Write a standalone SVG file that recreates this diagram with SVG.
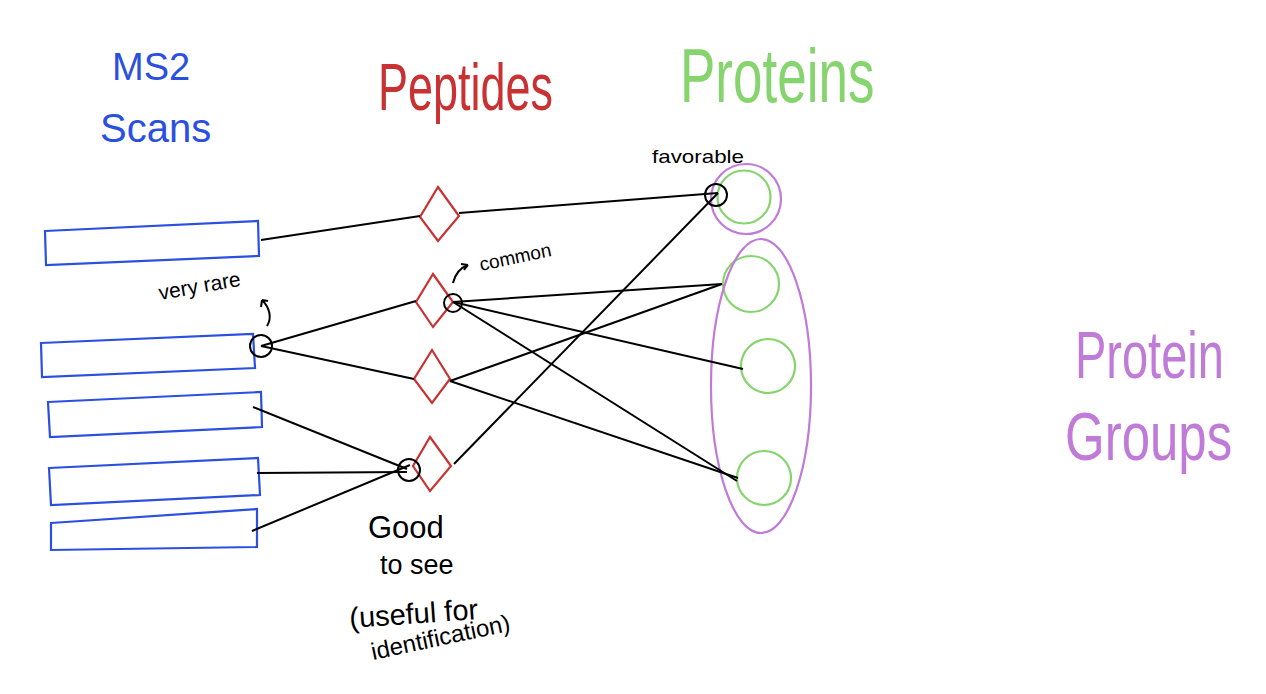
<svg xmlns="http://www.w3.org/2000/svg" width="1266" height="694" viewBox="0 0 1266 694">
<style>
.scan{fill:none;stroke:#2b4fe0;stroke-width:2.2}
.pep{fill:none;stroke:#c83232;stroke-width:2.2}
.prot{fill:none;stroke:#86d46e;stroke-width:2.2}
.grp{fill:none;stroke:#c07ad8;stroke-width:2.2}
.mark{fill:none;stroke:#000;stroke-width:2}
.edge{fill:none;stroke:#000;stroke-width:2}
text{font-family:"Liberation Sans","DejaVu Sans",sans-serif}
.note{fill:#000}
</style>
<rect width="1266" height="694" fill="#fff"/>

<g id="titles">
<text x="112" y="80" font-size="38" fill="#2b4fe0">MS2</text>
<text x="100" y="142" font-size="40" fill="#2b4fe0">Scans</text>
<text transform="translate(378,110) scale(1,1.5)" font-size="45" fill="#c83232">Peptides</text>
<text transform="translate(680,102) scale(1,1.45)" font-size="53" fill="#86d46e">Proteins</text>
<text transform="translate(1075,378) scale(1,1.4)" font-size="47" fill="#c07ad8">Protein</text>
<text transform="translate(1065,460) scale(1,1.35)" font-size="51" fill="#c07ad8">Groups</text>
</g>

<g id="scans">
<polygon id="scan1" class="scan" points="45,231 258,221 259,256 46,265"/>
<polygon id="scan2" class="scan" points="41,343 253,334 255,368 42,377"/>
<polygon id="scan3" class="scan" points="48,402 261,392 262,427 50,437"/>
<polygon id="scan4" class="scan" points="49,468 258,458 260,495 51,505"/>
<polygon id="scan5" class="scan" points="51,523 257,509 257,547 51,550"/>
</g>

<g id="peptides">
<polygon id="pep1" class="pep" points="438,187 459,216 438,241 420,217"/>
<polygon id="pep2" class="pep" points="433,274 453,302 433,327 416,302"/>
<polygon id="pep3" class="pep" points="432,350 450,379 432,403 414,379"/>
<polygon id="pep4" class="pep" points="430,437 451,466 430,491 413,466"/>
</g>

<g id="proteins">
<circle id="prot1" class="prot" cx="744" cy="197" r="26.5"/>
<circle id="prot2" class="prot" cx="751" cy="284" r="28"/>
<circle id="prot3" class="prot" cx="768" cy="366" r="27"/>
<circle id="prot4" class="prot" cx="764" cy="478" r="27"/>
</g>

<g id="groups">
<circle id="group1" class="grp" cx="746" cy="199" r="35"/>
<ellipse id="group2" class="grp" cx="761" cy="386" rx="50" ry="147"/>
</g>

<g id="connectors">
<line class="edge" x1="261" y1="240" x2="420" y2="216"/>
<line class="edge" x1="459" y1="213" x2="718" y2="193"/>
<line class="edge" x1="261" y1="346" x2="416" y2="301"/>
<line class="edge" x1="261" y1="346" x2="414" y2="379"/>
<line class="edge" x1="253" y1="407" x2="407" y2="469"/>
<line class="edge" x1="257" y1="473" x2="407" y2="472"/>
<line class="edge" x1="252" y1="531" x2="410" y2="465"/>
<line class="edge" x1="453" y1="302" x2="722" y2="284"/>
<line class="edge" x1="453" y1="302" x2="743" y2="369"/>
<line class="edge" x1="453" y1="302" x2="737" y2="481"/>
<line class="edge" x1="450" y1="381" x2="722" y2="284"/>
<line class="edge" x1="450" y1="381" x2="738" y2="478"/>
<line class="edge" x1="454" y1="464" x2="718" y2="193"/>
</g>

<g id="annotations">
<circle class="mark" cx="261" cy="346" r="11"/>
<circle class="mark" cx="453" cy="303" r="9"/>
<circle class="mark" cx="409" cy="470" r="11"/>
<circle class="mark" cx="716" cy="195" r="11"/>
<path class="mark" d="M267,326 C272,318 270,308 262,300 M262,300 L261,307 M262,300 L268,301"/>
<path class="mark" d="M453,283 C455,274 460,268 468,265 M468,265 L461,264 M468,265 L464,270"/>
<text class="note" transform="translate(160,300) rotate(-10)" font-size="21">very rare</text>
<text class="note" transform="translate(481,271) rotate(-12)" font-size="19">common</text>
<text class="note" x="652" y="163" font-size="19" textLength="92" lengthAdjust="spacingAndGlyphs">favorable</text>
<text class="note" x="368" y="538" font-size="31">Good</text>
<text class="note" x="380" y="574" font-size="27">to see</text>
<text class="note" transform="translate(350,628) rotate(-4)" font-size="29">(useful for</text>
<text class="note" transform="translate(373,660) rotate(-12)" font-size="24">identification)</text>
</g>
</svg>
